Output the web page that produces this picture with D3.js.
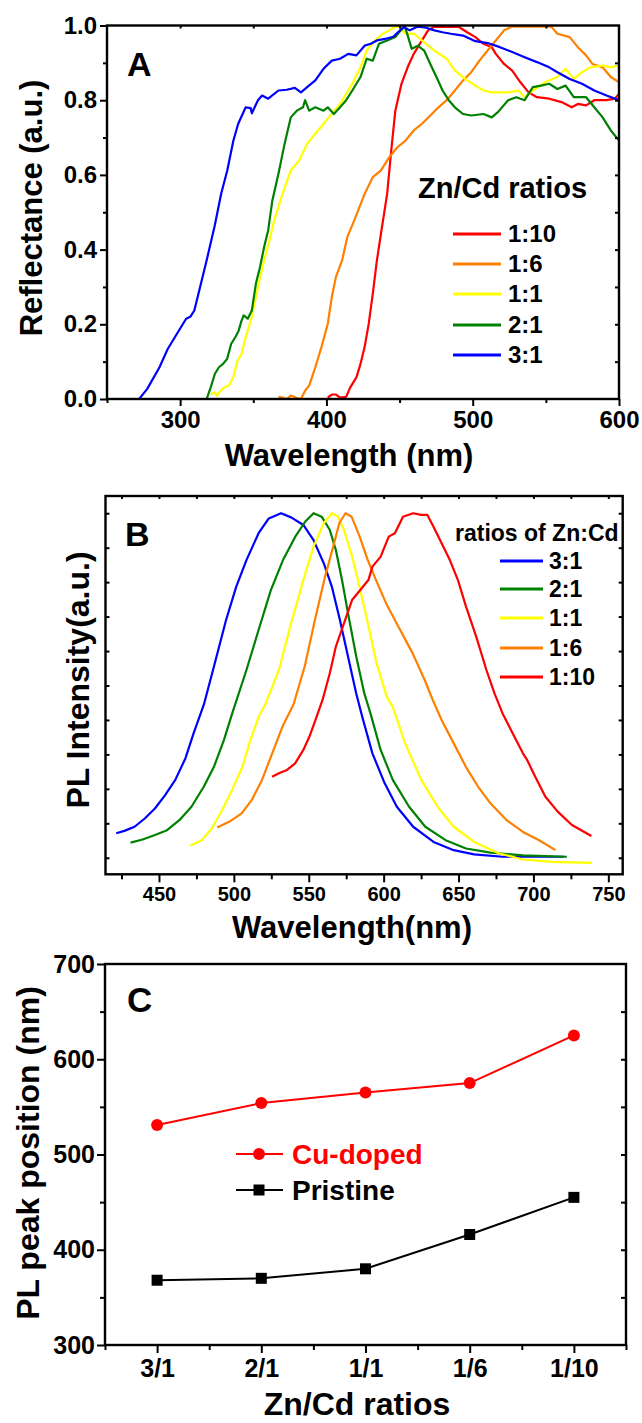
<!DOCTYPE html>
<html>
<head>
<meta charset="utf-8">
<script src="https://cdn.jsdelivr.net/npm/d3@7"></script>
<style>
  body { margin: 0; background: #fff; }
  svg text { font-family: "Liberation Sans", Arial, sans-serif; font-weight: bold; fill: #000; }
  .domain { stroke: none; }
  .tick line { stroke: #000; stroke-width: 2; }
</style>
</head>
<body>
<div id="chart"></div>
<script>
// ---------- panel A: reflectance ----------
var refl_names = ["1:10", "1:6", "1:1", "2:1", "3:1"];
var refl_colors = ["#ff0000", "#ff8000", "#ffff00", "#008000", "#0000ff"];

var refl_1_10 = [[400.9,0.004],[403.7,0.012],[406.5,0.012],[409.3,0.004],[413.5,0.006],[416.3,0.031],[420.5,0.058],[423.3,0.094],[426.1,0.139],[428.9,0.201],[431.7,0.282],[434.5,0.371],[437.3,0.443],[441.5,0.549],[444.3,0.665],[447.1,0.772],[451.3,0.844],[455.5,0.888],[459.7,0.924],[465.3,0.96],[469.5,0.987],[473.8,0.997],[479.4,0.996],[485,0.997],[490.6,0.996],[496.2,0.982],[501.8,0.969],[507.4,0.951],[513,0.942],[515.8,0.924],[521.4,0.897],[527,0.879],[532.6,0.848],[538.2,0.821],[543.9,0.808],[552.3,0.804],[560.7,0.795],[567.7,0.781],[571.9,0.79],[577.5,0.786],[583.1,0.8],[591.5,0.8],[597.2,0.804],[600,0.817]];
var refl_1_6 = [[367.2,0.006],[370,0.004],[372.8,0],[375.6,0.009],[379,0.004],[382.6,0],[385.4,0.022],[388.2,0.036],[392.4,0.085],[396.6,0.139],[400.9,0.201],[403.7,0.273],[406.5,0.327],[410.7,0.371],[414.3,0.434],[419.1,0.479],[426.1,0.549],[431.7,0.594],[437.3,0.612],[442.9,0.647],[448.5,0.674],[454.1,0.692],[459.7,0.719],[465.3,0.737],[471,0.759],[476.6,0.781],[482.2,0.8],[487.8,0.826],[493.4,0.853],[499,0.875],[504.6,0.906],[510.2,0.933],[515.8,0.96],[521.4,0.987],[527,0.997],[541.1,0.997],[553.7,0.997],[557.9,0.978],[566.3,0.969],[571.9,0.942],[577.5,0.92],[581.8,0.897],[588.8,0.888],[594.4,0.862],[600,0.848]];
var refl_1_1 = [[321,0.013],[323.7,0.018],[325,0.009],[327.8,0.022],[330,0.031],[333.4,0.036],[336.4,0.058],[339.2,0.103],[342,0.121],[344.8,0.166],[349,0.219],[353.2,0.3],[357.4,0.371],[361.6,0.434],[364.4,0.479],[370,0.549],[375.6,0.612],[381.2,0.638],[386.8,0.683],[392.4,0.71],[398,0.737],[403.7,0.763],[409.3,0.79],[413.5,0.817],[417.7,0.844],[423.3,0.888],[427.5,0.933],[433.1,0.96],[438.7,0.978],[442.9,0.987],[447.1,0.997],[449.9,0.996],[454.1,0.978],[459.7,0.978],[465.3,0.96],[473.8,0.933],[482.2,0.911],[487.8,0.879],[496.2,0.853],[501.8,0.839],[507.4,0.826],[513,0.821],[524.2,0.821],[531.3,0.826],[535.5,0.808],[541.1,0.826],[549.5,0.848],[557.9,0.862],[563.5,0.884],[569.1,0.857],[574.7,0.875],[580.4,0.888],[588.8,0.893],[594.4,0.888],[600,0.893]];
var refl_2_1 = [[318.1,0],[320.9,0.031],[323.7,0.067],[326.5,0.085],[329.3,0.094],[332.1,0.107],[334.9,0.148],[337.8,0.166],[340,0.183],[342,0.21],[343.4,0.224],[346.2,0.215],[349,0.237],[351.8,0.309],[354.6,0.353],[357.4,0.407],[360.2,0.452],[363,0.531],[367.2,0.603],[371.4,0.683],[375.6,0.754],[379.8,0.772],[384,0.781],[385.4,0.8],[388.2,0.772],[392.4,0.781],[398,0.772],[400.9,0.781],[405.1,0.763],[409.3,0.781],[413.5,0.8],[417.7,0.826],[423.3,0.862],[427.5,0.911],[431.7,0.906],[435.9,0.951],[441.5,0.96],[447.1,0.969],[450.8,0.987],[453.6,0.997],[455.6,0.973],[458.3,0.9375],[462.5,0.946],[466.8,0.933],[471,0.897],[475.2,0.862],[479.4,0.826],[483.6,0.8],[487.8,0.781],[493.4,0.763],[499,0.759],[507.4,0.763],[513,0.754],[517.2,0.768],[524.2,0.8],[529.8,0.808],[535.5,0.8],[541.1,0.835],[546.7,0.839],[552.3,0.844],[557.9,0.83],[563.5,0.839],[569.1,0.808],[577.5,0.808],[583.1,0.781],[588.8,0.754],[594.4,0.719],[600,0.692]];
var refl_3_1 = [[272,0],[277.5,0.027],[285.9,0.085],[291.5,0.134],[297.1,0.17],[304.1,0.215],[306.9,0.22],[309.7,0.237],[313.9,0.304],[318.1,0.371],[323.7,0.465],[328,0.549],[332.2,0.612],[336.4,0.692],[339.7,0.737],[344.8,0.781],[348.2,0.779],[349,0.765],[353.2,0.8],[356,0.8125],[360.2,0.804],[367.2,0.826],[372.8,0.828],[378.4,0.833],[382.6,0.821],[386.8,0.835],[392.4,0.853],[398,0.884],[403.7,0.906],[409.3,0.911],[414.9,0.924],[420.5,0.92],[426.1,0.946],[430.3,0.951],[434.5,0.96],[440.1,0.964],[445.7,0.97],[452.7,0.996],[457,0.987],[462.5,0.997],[468.2,0.994],[473.8,0.987],[479.4,0.982],[485,0.978],[493.4,0.973],[501.8,0.958],[510.2,0.953],[518.6,0.942],[527,0.929],[535.5,0.915],[543.9,0.902],[552.3,0.888],[557.9,0.875],[566.3,0.857],[574.7,0.844],[583.1,0.826],[591.5,0.8125],[600,0.8]];
var refl_series = [refl_1_10, refl_1_6, refl_1_1, refl_2_1, refl_3_1];

// ---------- panel B: PL spectra ----------
var pl_names = ["3:1", "2:1", "1:1", "1:6", "1:10"];
var pl_colors = ["#0000ff", "#008000", "#ffff00", "#ff8000", "#ff0000"];

var pl_3_1 = [[421.5,0.071],[426.9,0.078],[433.7,0.09],[440.5,0.114],[447.3,0.143],[454.1,0.182],[460.9,0.226],[467.7,0.289],[473.1,0.361],[480,0.445],[486.7,0.555],[494.8,0.69],[501.6,0.787],[508.4,0.864],[516.5,0.942],[523.3,0.985],[531.5,1.0],[538.2,0.988],[546.4,0.966],[553.2,0.922],[560,0.855],[565.4,0.787],[570.8,0.69],[576.2,0.584],[581.7,0.477],[585.7,0.409],[592.5,0.303],[600.7,0.216],[608.8,0.148],[619.7,0.09],[633.3,0.046],[646.8,0.022],[660.4,0.01],[679.4,0.003],[698.4,0.003],[720,0.003]];
var pl_2_1 = [[431,0.044],[439.1,0.053],[447.3,0.066],[455.4,0.08],[463.6,0.109],[471.7,0.148],[479.9,0.206],[486.7,0.264],[493.4,0.342],[498.9,0.419],[508.4,0.545],[516.5,0.661],[524.7,0.777],[532.8,0.864],[541,0.932],[547.7,0.976],[553.2,1.0],[558.6,0.99],[564,0.952],[568.1,0.893],[572.2,0.806],[576.2,0.71],[581.7,0.584],[587.1,0.477],[591.2,0.419],[598,0.313],[606.1,0.226],[617,0.148],[627.8,0.09],[641.4,0.051],[655,0.027],[671.3,0.015],[693,0.007],[722.3,0.003]];
var pl_1_1 = [[470.9,0.035],[478.5,0.051],[485.3,0.085],[492.1,0.138],[498.9,0.197],[505.7,0.264],[511.1,0.342],[516.5,0.409],[521,0.445],[530.1,0.545],[538.2,0.68],[546.4,0.806],[553.2,0.903],[560,0.971],[565.4,1.0],[569.5,0.99],[573.5,0.952],[579,0.874],[584.4,0.777],[589.9,0.671],[595.3,0.564],[602.1,0.467],[606.1,0.438],[614.3,0.332],[625.1,0.226],[636,0.148],[646.8,0.09],[660.4,0.046],[676.7,0.013],[693,-0.005],[712,-0.012],[739.2,-0.015]];
var pl_1_6 = [[488.9,0.088],[497.1,0.105],[505.2,0.129],[512,0.168],[518.8,0.226],[525.6,0.303],[532.4,0.38],[539.8,0.445],[547.3,0.555],[554.1,0.69],[560.9,0.816],[566.3,0.903],[570.4,0.971],[574.5,1.0],[578.6,0.99],[584,0.932],[589.4,0.864],[594.9,0.806],[601.6,0.739],[609.8,0.671],[619.3,0.594],[627.4,0.516],[632.8,0.458],[638.7,0.4],[646.8,0.332],[654.9,0.264],[663.1,0.206],[671.3,0.158],[682.1,0.109],[693,0.075],[703.8,0.051],[714.7,0.022]];
var pl_1_10 = [[525.5,0.235],[530.1,0.245],[535.5,0.255],[540.9,0.274],[546.4,0.313],[550.4,0.351],[554.5,0.4],[559.2,0.458],[564,0.535],[568.1,0.613],[573.5,0.68],[578.9,0.748],[584.4,0.777],[589.8,0.806],[592.5,0.845],[598,0.874],[603.4,0.932],[607.5,0.942],[612.9,0.99],[619.7,1.0],[625.1,0.995],[629.2,0.995],[633.3,0.961],[638.7,0.913],[644.2,0.864],[649.6,0.806],[655,0.729],[661.8,0.642],[668.6,0.545],[674,0.477],[679.4,0.419],[686.2,0.361],[693,0.303],[695.8,0.284],[701.2,0.235],[708,0.177],[716.2,0.134],[725.7,0.095],[738.7,0.063]];
var pl_series = [pl_3_1, pl_2_1, pl_1_1, pl_1_6, pl_1_10];

// ---------- panel C: peak positions ----------
var ratio_labels = ["3/1", "2/1", "1/1", "1/6", "1/10"];
var cu_doped = [531, 554, 565, 575, 625];
var pristine = [368, 370, 380, 416, 455];

var svgWidth = 642;
var svgHeight = 1423;
var font = "'Liberation Sans', Arial, sans-serif";

var svg = d3.select("#chart").append("svg")
    .attr("width", svgWidth)
    .attr("height", svgHeight);

function frame(g, box) {
    g.append("rect")
        .attr("x", box.left)
        .attr("y", box.top)
        .attr("width", box.right - box.left)
        .attr("height", box.bottom - box.top)
        .attr("fill", "none")
        .attr("stroke", "#000")
        .attr("stroke-width", 2.4);
}

// draws a tick-only axis; size > 0 means outward for bottom/left
function ticks(g, axisFn, scale, values, size, tx, ty, labels, fontSize) {
    var ax = axisFn(scale)
        .tickValues(values)
        .tickSizeInner(size)
        .tickSizeOuter(0)
        .tickPadding(4);
    if (labels) {
        ax.tickFormat(labels);
    } else {
        ax.tickFormat("");
    }
    var a = g.append("g")
        .attr("transform", `translate(${tx}, ${ty})`)
        .call(ax);
    a.selectAll("text")
        .style("font-size", fontSize + "px")
        .style("font-family", font)
        .style("font-weight", "bold")
        .attr("fill", "#000");
    return a;
}

function rotatedTitle(g, text, x, y, size) {
    g.append("text")
        .attr("transform", `translate(${x}, ${y}) rotate(-90)`)
        .attr("text-anchor", "middle")
        .attr("dy", "0.35em")
        .style("font-size", size + "px")
        .text(text);
}

function legendRows(g, names, colors, x1, x2, tx, ys, size) {
    names.forEach(function (n, i) {
        g.append("line")
            .attr("x1", x1).attr("x2", x2)
            .attr("y1", ys[i]).attr("y2", ys[i])
            .attr("stroke", colors[i])
            .attr("stroke-width", 3);
        g.append("text")
            .attr("x", tx)
            .attr("y", ys[i])
            .attr("dy", "0.35em")
            .style("font-size", size + "px")
            .text(n);
    });
}

// ================= A =================
var boxA = { left: 107, right: 619, top: 25.5, bottom: 399 };
var gA = svg.append("g");
var xA = d3.scaleLinear().domain([250, 600]).range([boxA.left, boxA.right]);
var yA = d3.scaleLinear().domain([0, 1]).range([boxA.bottom, boxA.top]);

gA.append("defs").append("clipPath").attr("id", "clipA")
    .append("rect")
    .attr("x", boxA.left).attr("y", boxA.top - 2)
    .attr("width", boxA.right - boxA.left).attr("height", boxA.bottom - boxA.top + 2);

var lineA = d3.line().x(d => xA(d[0])).y(d => yA(d[1]));
gA.append("g").attr("clip-path", "url(#clipA)")
    .selectAll("path")
    .data(refl_series)
    .enter()
    .append("path")
    .attr("d", lineA)
    .attr("fill", "none")
    .attr("stroke", (d, i) => refl_colors[i])
    .attr("stroke-width", 2.2)
    .attr("stroke-linejoin", "round");

ticks(gA, d3.axisBottom, xA, [300, 400, 500, 600], 7, 0, boxA.bottom, d3.format("d"), 24)
    .selectAll("text").attr("y", 12);
ticks(gA, d3.axisBottom, xA, [250, 350, 450, 550], 4, 0, boxA.bottom);
ticks(gA, d3.axisTop, xA, [300, 350, 400, 450, 500, 550], -3, 0, boxA.top);
ticks(gA, d3.axisLeft, yA, [0, 0.2, 0.4, 0.6, 0.8, 1.0], 7, boxA.left, 0, d3.format(".1f"), 24)
    .selectAll("text").attr("x", -10);
ticks(gA, d3.axisLeft, yA, [0.1, 0.3, 0.5, 0.7, 0.9], 4, boxA.left, 0);
ticks(gA, d3.axisRight, yA, [0.1, 0.2, 0.3, 0.4, 0.5, 0.6, 0.7, 0.8, 0.9], -4, boxA.right, 0);
frame(gA, boxA);

gA.append("text").attr("x", 127).attr("y", 76).style("font-size", "34px").text("A");
rotatedTitle(gA, "Reflectance (a.u.)", 31, 208, 31);
gA.append("text")
    .attr("x", 349).attr("y", 466)
    .attr("text-anchor", "middle")
    .style("font-size", "31px")
    .text("Wavelength (nm)");
gA.append("text").attr("x", 418).attr("y", 198).style("font-size", "29px").text("Zn/Cd ratios");
legendRows(gA, refl_names, refl_colors, 453, 501, 508, [234, 264, 294, 325, 355], 24);

// ================= B =================
var boxB = { left: 105.5, right: 622.7, top: 496, bottom: 874.3 };
var gB = svg.append("g");
var xB = d3.scaleLinear().domain([414.3, 759.6]).range([boxB.left, boxB.right]);
var yB = d3.scaleLinear().domain([-0.048, 1.05]).range([boxB.bottom, boxB.top]);

var lineB = d3.line().x(d => xB(d[0])).y(d => yB(d[1]));
gB.selectAll("path.pl")
    .data(pl_series)
    .enter()
    .append("path")
    .attr("class", "pl")
    .attr("d", lineB)
    .attr("fill", "none")
    .attr("stroke", (d, i) => pl_colors[i])
    .attr("stroke-width", 2.2)
    .attr("stroke-linejoin", "round");

var yTicksB = d3.range(0, 11).map(i => i / 10);
ticks(gB, d3.axisBottom, xB, [450, 500, 550, 600, 650, 700, 750], 8, 0, boxB.bottom, d3.format("d"), 20)
    .selectAll("text").attr("y", 13);
ticks(gB, d3.axisBottom, xB, [425, 475, 525, 575, 625, 675, 725], 5, 0, boxB.bottom);
ticks(gB, d3.axisTop, xB, d3.range(425, 751, 25), -3, 0, boxB.top);
ticks(gB, d3.axisLeft, yB, yTicksB, -4, boxB.left, 0);
ticks(gB, d3.axisRight, yB, yTicksB, -4, boxB.right, 0);
frame(gB, boxB);

gB.append("text").attr("x", 125).attr("y", 546).style("font-size", "34px").text("B");
rotatedTitle(gB, "PL Intensity(a.u.)", 78, 680, 32);
gB.append("text")
    .attr("x", 352).attr("y", 938)
    .attr("text-anchor", "middle")
    .style("font-size", "31px")
    .text("Wavelength(nm)");
gB.append("text").attr("x", 455).attr("y", 541).style("font-size", "23px").text("ratios of Zn:Cd");
legendRows(gB, pl_names, pl_colors, 500, 543, 549, [561, 589, 618, 648, 677], 23);

// ================= C =================
var boxC = { left: 105, right: 626, top: 964, bottom: 1345 };
var gC = svg.append("g");
var xC = d3.scaleLinear().domain([0.5, 5.5]).range([boxC.left, boxC.right]);
var yC = d3.scaleLinear().domain([300, 700]).range([boxC.bottom, boxC.top]);

var lineC = d3.line().x((d, i) => xC(i + 1)).y(d => yC(d));

gC.append("path")
    .datum(pristine)
    .attr("d", lineC)
    .attr("fill", "none")
    .attr("stroke", "#000")
    .attr("stroke-width", 2);
gC.selectAll("rect.pristine")
    .data(pristine)
    .enter()
    .append("rect")
    .attr("class", "pristine")
    .attr("x", (d, i) => xC(i + 1) - 5.5)
    .attr("y", d => yC(d) - 5.5)
    .attr("width", 11)
    .attr("height", 11)
    .attr("fill", "#000");

gC.append("path")
    .datum(cu_doped)
    .attr("d", lineC)
    .attr("fill", "none")
    .attr("stroke", "#ff0000")
    .attr("stroke-width", 2);
gC.selectAll("circle.cu")
    .data(cu_doped)
    .enter()
    .append("circle")
    .attr("class", "cu")
    .attr("cx", (d, i) => xC(i + 1))
    .attr("cy", d => yC(d))
    .attr("r", 6)
    .attr("fill", "#ff0000");

ticks(gC, d3.axisBottom, xC, [1, 2, 3, 4, 5], 8, 0, boxC.bottom, (d, i) => ratio_labels[i], 25)
    .selectAll("text").attr("y", 14);
ticks(gC, d3.axisBottom, xC, [0.5, 1.5, 2.5, 3.5, 4.5, 5.5], 5, 0, boxC.bottom);
ticks(gC, d3.axisLeft, yC, [300, 400, 500, 600, 700], 8, boxC.left, 0, d3.format("d"), 25)
    .selectAll("text").attr("x", -10);
ticks(gC, d3.axisLeft, yC, [350, 450, 550, 650], 5, boxC.left, 0);
ticks(gC, d3.axisRight, yC, [350, 400, 450, 500, 550, 600, 650], -5, boxC.right, 0);
frame(gC, boxC);

gC.append("text").attr("x", 127).attr("y", 1012).style("font-size", "35px").text("C");
rotatedTitle(gC, "PL peak position (nm)", 28, 1153, 32);
gC.append("text")
    .attr("x", 357).attr("y", 1415)
    .attr("text-anchor", "middle")
    .style("font-size", "32px")
    .text("Zn/Cd ratios");

// legend C
gC.append("line").attr("x1", 236).attr("x2", 283).attr("y1", 1154).attr("y2", 1154)
    .attr("stroke", "#ff0000").attr("stroke-width", 2);
gC.append("circle").attr("cx", 259).attr("cy", 1154).attr("r", 6).attr("fill", "#ff0000");
gC.append("text").attr("x", 292).attr("y", 1154).attr("dy", "0.35em")
    .style("font-size", "28px").style("fill", "#ff0000").text("Cu-doped");
gC.append("line").attr("x1", 236).attr("x2", 283).attr("y1", 1190).attr("y2", 1190)
    .attr("stroke", "#000").attr("stroke-width", 2);
gC.append("rect").attr("x", 253.5).attr("y", 1184.5).attr("width", 11).attr("height", 11).attr("fill", "#000");
gC.append("text").attr("x", 292).attr("y", 1190).attr("dy", "0.35em")
    .style("font-size", "28px").text("Pristine");
</script>
</body>
</html>
